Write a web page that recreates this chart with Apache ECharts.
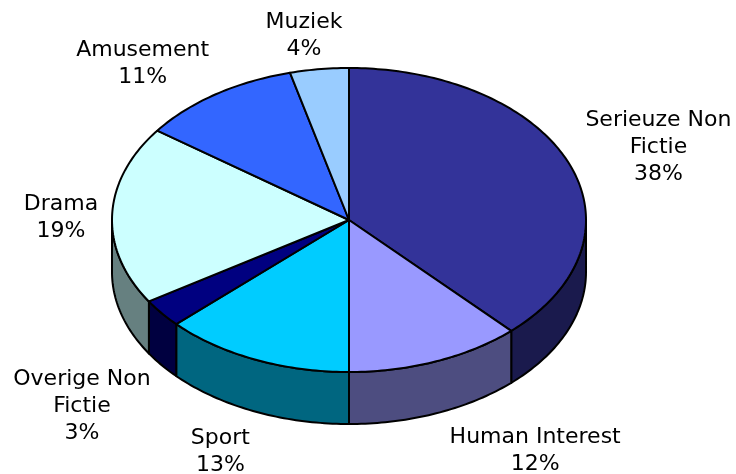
<!DOCTYPE html>
<html>
<head>
<meta charset="utf-8">
<script src="https://cdn.jsdelivr.net/npm/echarts@6/dist/echarts.min.js"></script>
<style>
  html, body { margin: 0; background: #fff; }
  #chart { width: 736px; height: 474px; }
</style>
</head>
<body>
<div id="chart"></div>
<script>
const categories = ['Serieuze Non Fictie', 'Human Interest', 'Sport', 'Overige Non Fictie', 'Drama', 'Amusement', 'Muziek']
const labelLines = [['Serieuze Non', 'Fictie'], ['Human Interest'], ['Sport'], ['Overige Non', 'Fictie'], ['Drama'], ['Amusement'], ['Muziek']]
const shares = [38, 12, 13, 3, 19, 11, 4]

const topColors = ['#333399', '#9999ff', '#00ccff', '#000080', '#ccffff', '#3366ff', '#99ccff']
const sideColors = ['#1a1a4d', '#4d4d80', '#006680', '#000040', '#668080', '#1a3380', '#4d6680']

// ellipse layout of the tilted pie
const pie = { cx: 349, cy: 220, rx: 237, ry: 152, depth: 52 }
const labelGap = 12
const lineH = 27
const font = '22px "DejaVu Sans", Verdana, sans-serif'
// small nudges so labels sit where Excel put them
const labelShift = [[10, 3], [63, 1], [-18, 4], [-16, 9], [-2, 4], [-29, 2], [-9, 5]]

const total = shares.reduce((a, b) => a + b, 0)
const starts = []
let acc = 0
shares.forEach(v => { starts.push(acc / total * Math.PI * 2); acc += v })

function pt(t, dy = 0, grow = 0) {
  return [pie.cx + (pie.rx + grow) * Math.sin(t), pie.cy - (pie.ry + grow) * Math.cos(t) + dy]
}

function arc(a, b, dy) {
  const n = Math.max(2, Math.ceil((b - a) / (Math.PI / 180)))
  const out = []
  for (let k = 0; k <= n; k++) out.push(pt(a + (b - a) * k / n, dy))
  return out
}

const measureCtx = document.createElement('canvas').getContext('2d')
measureCtx.font = font

function renderSide(params, api) {
  const i = params.dataIndex
  const a = Math.max(starts[i], Math.PI / 2)
  const b = Math.min(starts[i] + api.value(0) / total * Math.PI * 2, Math.PI * 1.5)
  if (a >= b) return { type: 'group', children: [] }
  const points = arc(a, b, 0).concat(arc(a, b, pie.depth).reverse())
  return {
    type: 'polygon',
    shape: { points },
    style: { fill: sideColors[i], stroke: '#000', lineWidth: 2, lineJoin: 'round' }
  }
}

function renderTop(params, api) {
  const i = params.dataIndex
  const a = starts[i]
  const b = a + api.value(0) / total * Math.PI * 2
  const points = [[pie.cx, pie.cy]].concat(arc(a, b, 0))
  return {
    type: 'polygon',
    shape: { points },
    style: { fill: topColors[i], stroke: '#000', lineWidth: 2, lineJoin: 'round' }
  }
}

function renderLabel(params, api) {
  const i = params.dataIndex
  const v = api.value(0)
  const mid = starts[i] + v / total * Math.PI
  const s = Math.sin(mid), c = Math.cos(mid)
  const lines = labelLines[i].concat([Math.round(v) + '%'])
  const w = Math.max(...lines.map(l => measureCtx.measureText(l).width))
  const h = lines.length * lineH
  const anchor = pt(mid, c < 0 ? pie.depth : 0, labelGap)
  return {
    type: 'text',
    x: anchor[0] + w / 2 * s + labelShift[i][0],
    y: anchor[1] - h / 2 * c + labelShift[i][1],
    style: {
      text: lines.join('\n'),
      font,
      fill: '#000',
      align: 'center',
      verticalAlign: 'middle',
      lineHeight: lineH
    }
  }
}

const chart = echarts.init(document.getElementById('chart'), null, { renderer: 'canvas' })
chart.setOption({
  backgroundColor: '#fff',
  animation: false,
  series: [
    { type: 'custom', name: 'side', coordinateSystem: 'none', silent: true, z: 1, data: shares, renderItem: renderSide },
    { type: 'custom', name: 'top', coordinateSystem: 'none', silent: true, z: 2, data: shares, renderItem: renderTop },
    { type: 'custom', name: 'labels', coordinateSystem: 'none', silent: true, z: 3, data: shares, renderItem: renderLabel }
  ]
})
</script>
</body>
</html>
